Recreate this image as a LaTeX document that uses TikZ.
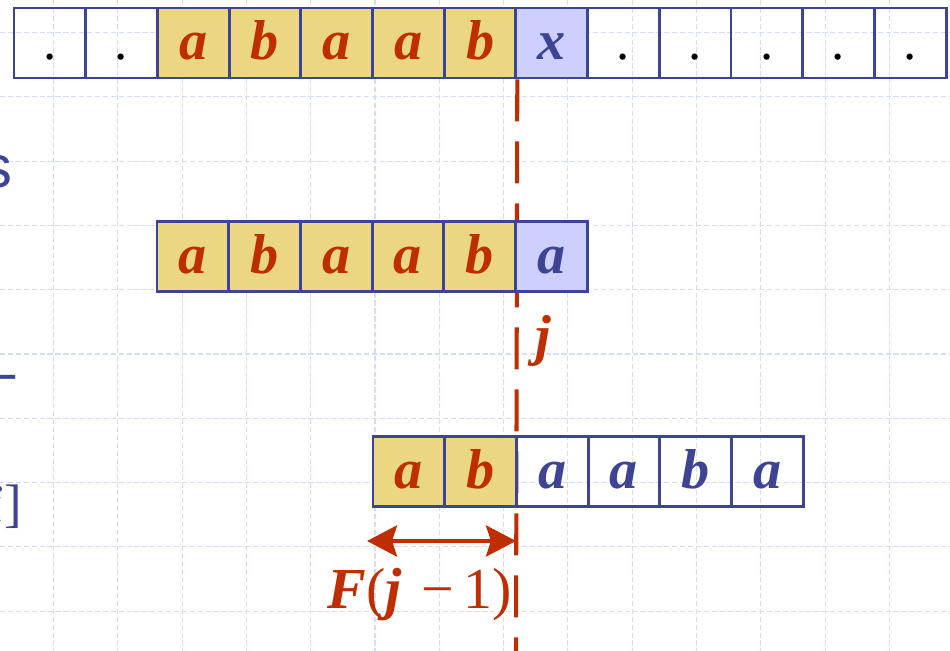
\documentclass[tikz,border=0pt]{standalone}
\usepackage{fontspec}
\setmainfont{Liberation Serif}
\setsansfont{Liberation Sans}
\usetikzlibrary{arrows.meta,backgrounds}
\definecolor{slideblue}{RGB}{62,68,148}
\definecolor{slidered}{RGB}{190,46,0}
\definecolor{matchgold}{RGB}{235,215,130}
\definecolor{misslilac}{RGB}{205,207,255}
\definecolor{gridblue}{RGB}{214,220,246}

\begin{document}
\begin{tikzpicture}[
  x=0.02cm,y=-0.02cm,
  every node/.style={font=\fontsize{32}{38}\selectfont\bfseries\itshape},
  cell/.style={draw=slideblue,line width=1.6pt,minimum width=1.434cm,minimum height=1.4cm,
    inner sep=0pt,text height=25pt,text depth=6pt},
  blank/.style={text=black,font=\fontsize{30}{36}\selectfont\upshape\mdseries},
  hit/.style={fill=matchgold,text=slidered},
  miss/.style={fill=misslilac,text=slideblue},
  rest/.style={text=slideblue},
  gridline/.style={gridblue,line width=0.6pt,dash pattern=on 3pt off 1.5pt},
  shiftline/.style={slidered,line width=2.3pt,dash pattern=on 0.84cm off 0.4cm},
  shiftarrow/.style={{Stealth[length=0.6cm,width=0.62cm,inset=0.1cm]}-{Stealth[length=0.6cm,width=0.62cm,inset=0.1cm]},
    slidered,line width=2.5pt},
  cut/.style={text=slideblue,inner sep=0pt}
]
\path[use as bounding box] (0,0) rectangle (950,651);
\clip (0,0) rectangle (950,651);

% slide grid
\begin{scope}[on background layer]
  \fill[white] (0,0) rectangle (950,651);
  \foreach \k in {0,...,14} \draw[gridline] ({53.5+64.3*\k},0) -- ({53.5+64.3*\k},651);
  \foreach \k in {0,...,9} \draw[gridline] (0,{32.5+64.3*\k}) -- (950,{32.5+64.3*\k});
\end{scope}

% text T, mismatch at x
\foreach \i/\c/\s in {1/./blank,2/./blank,3/a/hit,4/b/hit,5/a/hit,6/a/hit,7/b/hit,
    8/x/miss,9/./blank,10/./blank,11/./blank,12/./blank,13/./blank}
  \node[cell,\s] (t\i) at ({14+71.7*(\i-0.5)},43) {\c};

% pattern P before the shift
\foreach \i/\c/\s in {1/a/hit,2/b/hit,3/a/hit,4/a/hit,5/b/hit,6/a/miss}
  \node[cell,\s] (m\i) at ({157+71.7*(\i-0.5)},256.5) {\c};

% pattern P after the shift
\foreach \i/\c/\s in {1/a/hit,2/b/hit,3/a/rest,4/a/rest,5/b/rest,6/a/rest}
  \node[cell,\s] (s\i) at ({373+71.7*(\i-0.5)},471.5) {\c};

% mismatch position
\coordinate (cutend) at (516,651);
\begin{scope}[on background layer]
  \draw[shiftline] (t7.south east) -- (cutend);
\end{scope}
\node[text=slidered,anchor=base] (jlabel) at (543,355) {j};

% length of the border
\coordinate (fl) at (367,541);
\coordinate (fr) at (516,541);
\draw[shiftarrow] (fl) -- (fr);
\node[text=slidered,anchor=base] (flabel) at (420,608)
  {\fontsize{33}{38}\selectfont F\textnormal{(}j\,\textnormal{\,−\,1)}};

% cut-off slide text on the left
\node[cut,font=\fontsize{34}{40}\selectfont\sffamily,anchor=base east] (fragS) at (13,188) {s};
\node[cut,font=\fontsize{34}{40}\selectfont\sffamily,anchor=base east] (fragD) at (16,393) {–};
\node[cut,font=\fontsize{30}{36}\selectfont,anchor=base east] (fragI) at (22,521) {\textit{i}]};
\end{tikzpicture}
\end{document}
